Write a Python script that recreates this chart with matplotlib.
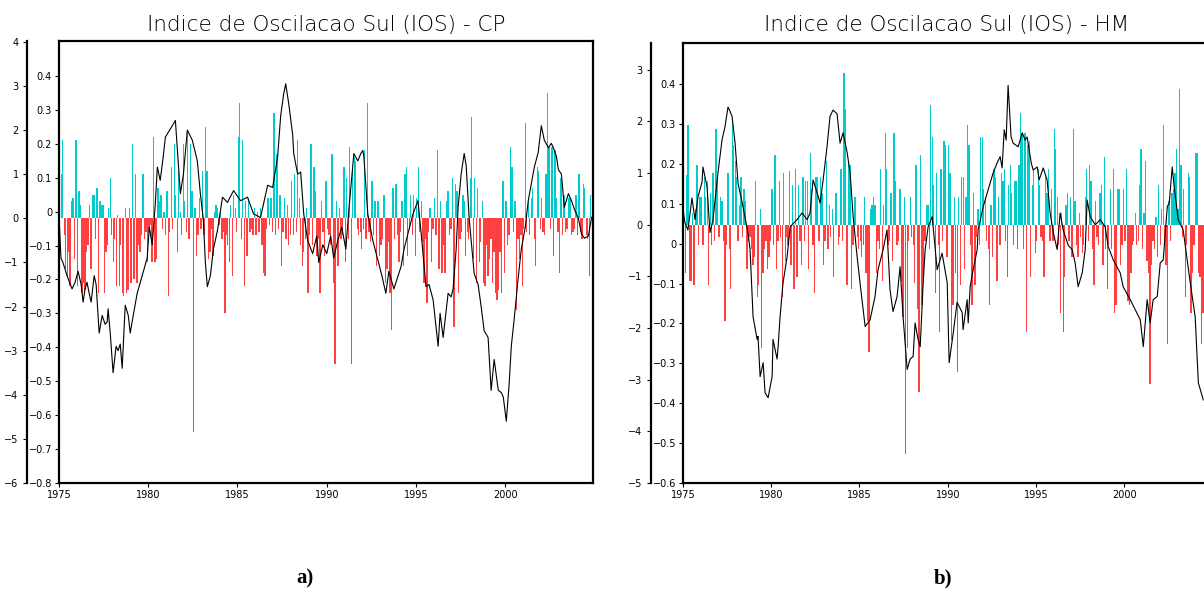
import numpy as np
import matplotlib.pyplot as plt

plt.rcParams['font.family'] = 'DejaVu Sans'

# ---------------- data ----------------
# monthly bars (one row per year, 1975..2004), CP panel
cp_bars = [
    [-0.13, 0.13, 0.23, -0.05, -0.15, -0.17, -0.10, -0.20, 0.05, 0.06, -0.12, 0.23],
    [-0.20, 0.08, 0.04, -0.22, -0.19, -0.21, -0.10, -0.08, 0.04, -0.15, 0.07, 0.07],
    [-0.06, 0.09, -0.22, 0.05, 0.04, 0.04, -0.22, -0.10, -0.08, 0.03, 0.12, -0.05],
    [-0.13, -0.06, -0.20, 0.01, -0.20, -0.08, -0.22, -0.23, 0.03, -0.22, -0.21, 0.03],
    [-0.19, 0.22, -0.18, 0.13, -0.19, -0.08, -0.10, -0.05, 0.13, -0.06, -0.04, -0.13],
    [-0.04, -0.02, -0.13, 0.24, -0.13, -0.12, 0.09, 0.05, 0.07, -0.03, 0.02, -0.05],
    [0.08, -0.23, -0.04, 0.15, -0.03, 0.22, 0.07, -0.10, 0.14, 0.02, -0.05, 0.22],
    [0.05, -0.04, 0.26, -0.06, 0.22, 0.08, -0.63, 0.03, -0.11, -0.05, 0.06, -0.03],
    [0.14, -0.05, 0.27, 0.14, -0.12, -0.10, -0.03, -0.11, 0.02, 0.04, 0.03, -0.02],
    [0.02, -0.06, -0.04, -0.28, -0.05, -0.08, -0.13, 0.04, -0.17, 0.07, 0.03, -0.04],
    [0.24, 0.34, -0.06, 0.23, -0.20, 0.05, -0.11, 0.06, -0.04, -0.03, -0.05, 0.03],
    [-0.05, 0.02, -0.04, 0.03, -0.08, -0.16, -0.17, -0.03, 0.06, -0.02, 0.06, -0.04],
    [0.31, -0.05, 0.19, -0.03, 0.07, -0.14, -0.04, 0.06, -0.06, 0.04, -0.08, -0.05],
    [0.11, -0.05, 0.13, -0.04, 0.23, 0.06, -0.08, -0.14, -0.10, -0.06, 0.03, -0.22],
    [-0.05, 0.22, -0.08, 0.15, 0.08, -0.11, -0.06, -0.22, 0.05, -0.04, -0.11, 0.11],
    [-0.03, -0.05, -0.08, 0.19, -0.19, -0.43, 0.05, -0.14, 0.03, -0.06, -0.05, 0.15],
    [-0.13, 0.12, -0.06, 0.21, -0.43, 0.14, 0.18, 0.17, -0.03, -0.05, -0.04, -0.09],
    [-0.03, 0.20, -0.06, 0.34, -0.04, -0.07, 0.11, -0.05, 0.05, -0.14, 0.05, -0.11],
    [-0.08, -0.06, 0.07, -0.19, -0.15, -0.07, -0.22, -0.33, 0.09, -0.06, 0.10, -0.05],
    [-0.13, -0.04, 0.05, -0.14, 0.13, 0.15, -0.11, -0.03, 0.07, -0.05, 0.07, -0.11],
    [0.06, 0.15, -0.04, 0.05, -0.07, -0.19, -0.06, -0.25, -0.04, 0.03, -0.13, -0.03],
    [0.06, -0.05, 0.20, -0.15, 0.05, -0.16, -0.08, -0.16, 0.05, 0.08, -0.05, -0.03],
    [0.12, -0.32, 0.10, 0.08, -0.22, -0.06, -0.04, 0.07, 0.05, -0.11, -0.04, -0.06],
    [0.12, 0.30, -0.12, 0.12, -0.19, 0.09, -0.13, -0.07, 0.05, -0.19, -0.20, -0.08],
    [-0.17, -0.12, -0.06, -0.19, -0.10, -0.22, -0.24, -0.21, -0.10, -0.22, 0.11, -0.16],
    [0.05, -0.08, -0.05, 0.21, 0.15, -0.04, 0.05, -0.27, -0.06, -0.12, -0.05, -0.20],
    [-0.03, 0.28, -0.04, 0.06, -0.05, 0.06, 0.09, -0.06, -0.14, 0.15, 0.14, -0.03],
    [0.06, -0.04, -0.05, 0.13, 0.37, 0.21, -0.03, 0.21, -0.11, 0.20, 0.06, -0.04],
    [-0.16, 0.12, -0.05, 0.07, -0.04, -0.03, 0.06, 0.06, -0.05, -0.04, -0.03, 0.07],
    [-0.05, 0.13, -0.04, -0.06, 0.10, 0.09, -0.05, -0.06, -0.17, 0.07, 0.06, -0.06],
]

# smoothed index (line), CP panel
cp_line_t = [1975.00, 1975.11, 1975.22, 1975.45, 1975.73, 1975.90, 1976.07, 1976.24, 1976.35, 1976.46,
             1976.57, 1976.69, 1976.80, 1976.97, 1977.08, 1977.25, 1977.42, 1977.58, 1977.70, 1977.75,
             1977.87, 1978.03, 1978.20, 1978.31, 1978.43, 1978.54, 1978.71, 1978.88, 1978.99, 1979.16,
             1979.38, 1979.66, 1979.94, 1980.06, 1980.22, 1980.39, 1980.51, 1980.67, 1980.84, 1980.96,
             1981.12, 1981.35, 1981.52, 1981.69, 1981.80, 1981.97, 1982.19, 1982.47, 1982.75, 1982.92,
             1983.09, 1983.20, 1983.31, 1983.48, 1983.65, 1983.88, 1984.16, 1984.44, 1984.78, 1985.17,
             1985.56, 1985.90, 1986.29, 1986.69, 1986.97, 1987.25, 1987.42, 1987.58, 1987.70, 1987.87,
             1988.09, 1988.15, 1988.37, 1988.54, 1988.71, 1988.93, 1989.21, 1989.44, 1989.55, 1989.78,
             1990.00, 1990.22, 1990.39, 1990.62, 1990.84, 1991.07, 1991.24, 1991.52, 1991.74, 1991.91,
             1992.02, 1992.08, 1992.30, 1992.58, 1992.87, 1993.09, 1993.31, 1993.48, 1993.76, 1994.16,
             1994.33, 1994.55, 1994.83, 1995.11, 1995.28, 1995.56, 1995.73, 1995.96, 1996.24, 1996.35,
             1996.52, 1996.80, 1996.97, 1997.08, 1997.25, 1997.36, 1997.53, 1997.70, 1997.81, 1997.98,
             1998.26, 1998.48, 1998.65, 1998.82, 1999.04, 1999.21, 1999.38, 1999.61, 1999.78, 1999.89,
             2000.06, 2000.22, 2000.34, 2000.51, 2000.73, 2000.90, 2001.12, 2001.29, 2001.63, 2001.85,
             2002.02, 2002.19, 2002.42, 2002.58, 2002.70, 2002.87, 2002.98, 2003.15, 2003.31, 2003.54,
             2003.71, 2003.88, 2004.10, 2004.27, 2004.44, 2004.66, 2004.83, 2004.94]
cp_line_v = [0.05, -0.9, -1.0, -1.3, -1.6, -1.45, -1.2, -1.5, -1.9, -1.6,
             -1.45, -1.7, -1.9, -1.3, -1.5, -2.6, -2.2, -2.4, -2.35, -2.05,
             -2.6, -3.5, -2.9, -3.0, -2.85, -3.4, -1.97, -2.2, -2.6, -2.2,
             -1.7, -1.3, -0.9, -0.2, -0.6, 0.3, 1.16, 0.86, 1.4, 1.84,
             1.95, 2.1, 2.22, 1.2, 0.56, 1.0, 2.0, 1.77, 1.3, 0.56,
             -0.05, -1.0, -1.55, -1.3, -0.7, -0.27, 0.48, 0.36, 0.63, 0.4,
             0.48, 0.1, 0.02, 0.75, 0.7, 1.4, 2.33, 2.8, 3.05, 2.6,
             1.9, 1.47, 1.0, 1.05, 0.1, -0.5, -0.8, -0.4, -1.0, -0.6,
             -0.8, -0.4, -0.9, -0.5, -0.2, -0.7, 0.2, 1.47, 1.3, 1.47,
             1.54, 1.4, 0.1, -0.5, -0.95, -1.3, -1.7, -1.2, -1.6, -1.1,
             -0.7, -0.35, 0.1, 0.4, -0.3, -1.55, -1.5, -1.85, -2.9, -2.15,
             -2.7, -1.7, -1.78, -1.6, -0.7, 0.25, 1.0, 1.47, 1.2, 0.0,
             -1.25, -1.5, -2.0, -2.55, -2.7, -3.9, -3.2, -3.9, -3.95, -4.05,
             -4.6, -3.75, -2.9, -2.25, -1.33, -0.7, -0.2, 0.4, 1.16, 1.5,
             2.1, 1.77, 1.6, 1.7, 1.6, 1.4, 1.1, 1.0, 0.25, 0.56,
             0.4, 0.2, 0.0, -0.35, -0.45, -0.4, 0.0, 0.1]

# monthly bars, HM panel
hm_bars = [
    [0.08, -0.12, 0.125, 0.25, -0.14, -0.14, 0.03, -0.15, 0.04, 0.15, -0.05, 0.07],
    [0.07, -0.05, 0.12, 0.07, 0.11, -0.15, 0.08, -0.05, 0.13, -0.04, 0.24, 0.12],
    [-0.03, 0.07, 0.06, -0.04, -0.24, -0.05, 0.13, -0.06, -0.16, 0.26, 0.20, 0.16],
    [0.12, -0.04, 0.05, 0.12, -0.03, 0.09, 0.06, -0.11, -0.04, -0.03, -0.06, -0.10],
    [-0.08, 0.11, -0.18, -0.15, 0.04, -0.31, -0.12, -0.06, -0.04, -0.11, -0.08, -0.04],
    [0.09, -0.05, 0.175, -0.11, -0.04, 0.11, -0.03, -0.18, 0.13, -0.09, -0.03, -0.05],
    [0.135, -0.10, 0.10, -0.16, 0.14, -0.13, 0.10, -0.04, -0.10, 0.12, -0.04, 0.11],
    [0.11, -0.11, 0.18, 0.09, -0.05, -0.17, 0.12, 0.12, -0.04, 0.12, 0.08, -0.10],
    [-0.04, 0.16, -0.06, 0.05, -0.03, 0.04, -0.13, 0.08, 0.08, -0.05, -0.03, 0.14],
    [-0.04, 0.38, 0.29, -0.15, 0.16, 0.15, -0.16, -0.05, 0.07, 0.07, -0.03, -0.06],
    [-0.04, -0.08, -0.05, 0.07, -0.12, -0.24, -0.32, 0.04, 0.05, 0.07, 0.05, -0.12],
    [-0.04, -0.06, 0.14, -0.14, 0.05, 0.23, 0.14, -0.05, -0.04, 0.08, -0.09, 0.23],
    [0.11, -0.05, -0.04, 0.09, -0.14, -0.23, 0.07, -0.575, -0.31, -0.04, 0.07, -0.03],
    [-0.05, -0.145, 0.15, -0.21, -0.42, 0.175, -0.20, -0.13, -0.04, 0.05, 0.05, -0.06],
    [0.30, 0.22, 0.10, -0.17, 0.13, -0.05, -0.27, 0.14, -0.04, 0.21, 0.20, -0.08],
    [0.20, 0.13, -0.29, -0.20, 0.07, -0.12, -0.37, 0.07, -0.15, 0.12, 0.12, -0.11],
    [0.07, 0.25, 0.20, -0.05, -0.20, 0.08, -0.15, -0.03, 0.04, -0.05, 0.22, 0.22],
    [0.09, 0.07, -0.04, -0.06, -0.20, 0.05, -0.08, 0.14, 0.12, -0.14, 0.07, -0.05],
    [0.13, 0.11, 0.14, -0.04, -0.13, 0.10, 0.15, 0.08, -0.05, 0.11, 0.11, -0.06],
    [0.15, 0.28, 0.23, -0.06, 0.23, -0.27, 0.20, 0.21, -0.13, 0.10, 0.14, -0.07],
    [-0.04, 0.14, 0.10, -0.03, -0.04, -0.13, 0.12, 0.08, 0.14, -0.04, 0.09, -0.04],
    [0.24, 0.19, 0.07, -0.05, -0.22, 0.03, -0.27, -0.13, 0.05, 0.08, -0.04, 0.07],
    [-0.08, 0.24, 0.06, -0.05, -0.08, 0.03, -0.03, -0.07, -0.05, 0.07, 0.14, -0.04],
    [0.15, 0.11, -0.06, -0.15, 0.06, -0.03, -0.05, 0.08, 0.10, -0.10, 0.17, -0.06],
    [-0.16, -0.05, 0.09, -0.06, 0.14, -0.22, -0.20, 0.09, 0.09, -0.10, -0.05, 0.09],
    [-0.04, 0.14, -0.19, -0.20, -0.12, -0.05, -0.04, 0.03, -0.05, -0.04, 0.10, 0.19],
    [-0.06, 0.03, 0.16, -0.09, -0.12, -0.40, -0.10, -0.04, -0.06, 0.02, -0.08, 0.10],
    [-0.05, 0.04, 0.25, -0.05, -0.10, -0.30, 0.06, -0.04, 0.08, 0.09, 0.13, 0.19],
    [0.04, 0.34, 0.15, -0.03, 0.09, -0.18, -0.05, 0.13, 0.12, -0.22, -0.12, -0.05],
    [0.18, 0.18, -0.12, -0.13, -0.30, -0.22, 0.10, -0.10, 0.08, -0.05, 0.06, -0.04],
]

# smoothed index (line), HM panel
hm_line_t = [1975.00, 1975.11, 1975.28, 1975.51, 1975.68, 1975.85, 1976.08, 1976.13, 1976.36, 1976.53,
             1976.70, 1976.98, 1977.21, 1977.38, 1977.55, 1977.66, 1977.78, 1977.95, 1978.12, 1978.40,
             1978.68, 1978.80, 1978.97, 1979.20, 1979.25, 1979.37, 1979.54, 1979.65, 1979.82, 1980.05,
             1980.10, 1980.33, 1980.39, 1980.50, 1980.67, 1980.90, 1981.07, 1981.46, 1981.75, 1982.03,
             1982.20, 1982.37, 1982.60, 1982.77, 1982.94, 1983.16, 1983.33, 1983.50, 1983.73, 1983.90,
             1984.07, 1984.30, 1984.47, 1984.64, 1984.86, 1985.03, 1985.32, 1985.60, 1985.88, 1986.05,
             1986.34, 1986.56, 1986.73, 1986.90, 1987.13, 1987.30, 1987.47, 1987.70, 1987.87, 1988.04,
             1988.15, 1988.32, 1988.44, 1988.61, 1988.72, 1988.89, 1989.12, 1989.40, 1989.68, 1989.97,
             1990.08, 1990.31, 1990.53, 1990.82, 1990.87, 1991.10, 1991.16, 1991.27, 1991.44, 1991.67,
             1991.72, 1992.01, 1992.29, 1992.57, 1992.80, 1992.97, 1993.08, 1993.20, 1993.31, 1993.42,
             1993.59, 1993.71, 1993.99, 1994.22, 1994.39, 1994.50, 1994.73, 1994.84, 1995.07, 1995.18,
             1995.41, 1995.63, 1995.80, 1995.98, 1996.20, 1996.37, 1996.54, 1996.83, 1997.05, 1997.22,
             1997.39, 1997.62, 1997.79, 1997.90, 1998.07, 1998.36, 1998.64, 1998.92, 1999.09, 1999.38,
             1999.77, 1999.94, 2000.34, 2000.62, 2000.91, 2001.08, 2001.30, 2001.47, 2001.64, 2001.87,
             2002.04, 2002.21, 2002.44, 2002.55, 2002.72, 2002.83, 2003.06, 2003.34, 2003.74, 2004.02,
             2004.20, 2004.48]
hm_line_v = [0.3, 0.04, -0.1, 0.52, 0.1, 0.54, 0.83, 1.12, 0.74, -0.15,
             0.1, 1.0, 1.64, 1.9, 2.28, 2.2, 2.1, 1.58, 0.8, 0.35,
             -0.15, -0.48, -1.78, -2.22, -2.16, -2.94, -2.67, -3.25, -3.35, -2.94,
             -2.22, -2.6, -2.36, -1.78, -1.12, -0.62, -0.04, 0.1, 0.23, 0.1,
             0.23, 0.87, 0.62, 0.42, 0.87, 1.51, 2.1, 2.22, 2.15, 1.58,
             1.78, 1.4, 1.0, 0.16, -0.6, -1.12, -1.97, -1.84, -1.39, -0.87,
             -0.48, -0.1, -1.26, -1.68, -1.39, -0.81, -1.78, -2.8, -2.6, -2.55,
             -1.9, -2.22, -2.36, -1.12, -0.48, -0.04, 0.16, -0.87, -0.55, -1.12,
             -2.67, -2.1, -1.5, -1.7, -2.03, -1.45, -1.9, -1.2, -0.87, -0.48,
             -0.1, 0.35, 0.68, 1.0, 1.2, 1.32, 1.1, 1.84, 1.64, 2.7,
             1.7, 1.58, 1.51, 1.78, 1.64, 1.7, 1.2, 1.06, 1.12, 0.87,
             1.1, 0.87, 0.23, -0.15, -0.48, 0.23, -0.1, -0.4, -0.48, -0.74,
             -1.2, -0.93, -0.48, 0.48, 0.16, 0.0, 0.1, -0.04, -0.42, -0.68,
             -0.93, -1.2, -1.45, -1.64, -1.84, -2.36, -1.45, -1.9, -1.45, -1.39,
             -0.74, -0.68, 0.35, 0.42, 1.12, 0.74, 0.1, -0.1, -1.12, -1.78,
             -3.06, -3.39]

cp_bar_ticks = [-0.8, -0.7, -0.6, -0.5, -0.4, -0.3, -0.2, -0.1, 0, 0.1, 0.2, 0.3, 0.4]
cp_line_ticks = [-6, -5, -4, -3, -2, -1, 0, 1, 2, 3, 4]
hm_bar_ticks = [-0.6, -0.5, -0.4, -0.3, -0.2, -0.1, 0, 0.1, 0.2, 0.3, 0.4]
hm_line_ticks = [-5, -4, -3, -2, -1, 0, 1, 2, 3]
year_ticks = [1975, 1980, 1985, 1990, 1995, 2000]

CYAN = '#00CCCC'
RED = '#FF4040'
W, H = 1204, 594


def fmt(v):
    s = '0' if v == 0 else f'{v:g}'
    return s.replace('-', '\u2212')


def draw_panel(fig, box_px, bars, line_t, line_v, bar_lim, line_lim,
               bar_ticks, line_ticks, title, letter, letter_x):
    l, t, r, b = box_px
    rect = [l / W, 1 - b / H, (r - l) / W, (b - t) / H]
    ax = fig.add_axes(rect)
    ax2 = fig.add_axes(rect)
    ax2.patch.set_visible(False)

    vals = np.array(bars).ravel()
    months = 1975 + (np.arange(len(vals)) + 0.5) / 12.0
    # bars hang from the zero of the line axis
    base = bar_lim[0] + (0 - line_lim[0]) / (line_lim[1] - line_lim[0]) * (bar_lim[1] - bar_lim[0])
    colors = np.where(vals >= 0, CYAN, RED)
    ax.bar(months, vals, width=0.075, bottom=base, color=colors, linewidth=0,
           antialiased=False)
    ax.set_xlim(1975, 2004.917)
    ax.set_ylim(bar_lim)
    ax.set_yticks(bar_ticks)
    ax.set_yticklabels([fmt(v) for v in bar_ticks])
    ax.set_xticks(year_ticks)
    ax.set_xticklabels([str(y) for y in year_ticks])
    ax.tick_params(direction='out', length=3, width=0.8, labelsize=7, pad=2)
    for s in ax.spines.values():
        s.set_linewidth(1.6)

    ax2.plot(line_t, line_v, color='black', lw=0.8)
    ax2.set_xlim(1975, 2004.917)
    ax2.set_ylim(line_lim)
    ax2.set_yticks(line_ticks)
    ax2.set_yticklabels([fmt(v) for v in line_ticks])
    ax2.set_xticks([])
    for s in ['top', 'right', 'bottom']:
        ax2.spines[s].set_visible(False)
    ax2.spines['left'].set_position(('outward', 23))
    ax2.spines['left'].set_linewidth(1.6)
    ax2.tick_params(direction='out', length=3, width=0.8, labelsize=7, pad=3)

    fig.text((l + r) / 2 / W, 1 - 25 / H, title, ha='center', va='center',
             fontsize=15.5, fontweight='light')
    fig.text(letter_x / W, 1 - 578 / H, letter, ha='center', va='center',
             fontsize=15, fontweight='bold', family='Liberation Serif')


fig = plt.figure(figsize=(W / 100, H / 100), dpi=100)
draw_panel(fig, (59, 41, 593, 483), cp_bars, cp_line_t, cp_line_v,
           (-0.8, 0.503), (-6, 4.02), cp_bar_ticks, cp_line_ticks,
           'Indice de Oscilacao Sul (IOS) - CP', 'a)', 305)
draw_panel(fig, (683, 43, 1211, 483), hm_bars, hm_line_t, hm_line_v,
           (-0.6, 0.503), (-5, 3.52), hm_bar_ticks, hm_line_ticks,
           'Indice de Oscilacao Sul (IOS) - HM', 'b)', 943)
fig.savefig('out.png', dpi=100)
